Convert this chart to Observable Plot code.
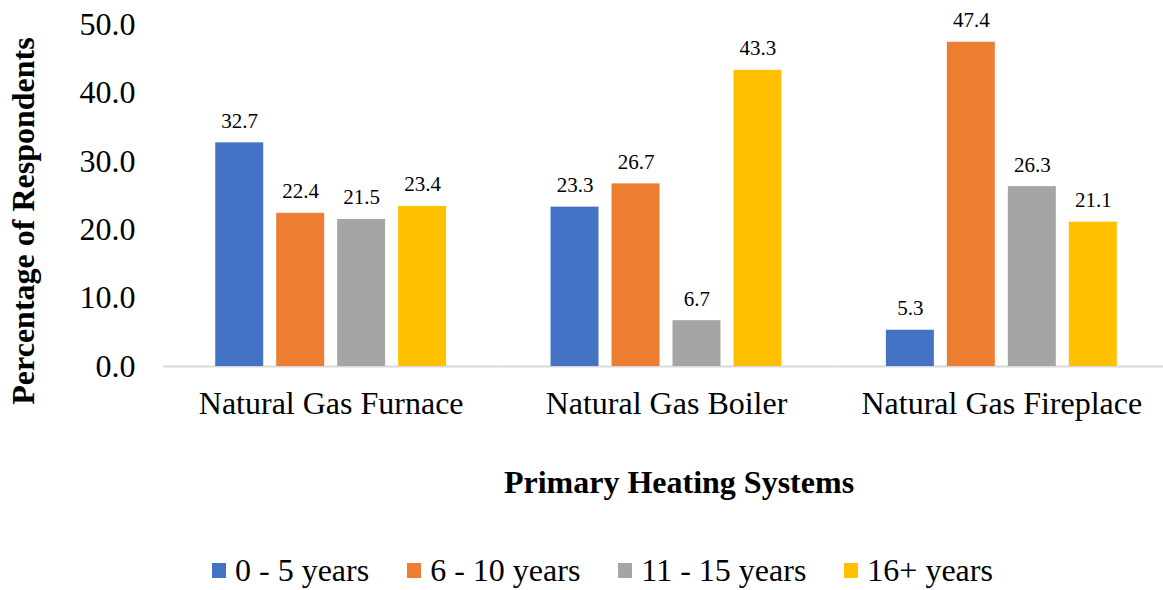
<!DOCTYPE html>
<html>
<head>
<meta charset="utf-8">
<script src="https://cdn.jsdelivr.net/npm/d3@7"></script>
<script src="https://cdn.jsdelivr.net/npm/@observablehq/plot@0.6"></script>
<style>
  html, body { margin: 0; padding: 0; background: #fff; overflow: hidden; }
  body { width: 1163px; height: 590px; font-family: "Liberation Serif", "Times New Roman", serif; color: #000; }
  #chart { width: 1163px; height: 440px; overflow: hidden; }
  #chart svg { display: block; max-width: none !important; }
  #xtitle { margin-top: 24px; width: 1163px; text-align: center; font-weight: bold; font-size: 32px; padding-left: 195px; box-sizing: border-box; }
  #legend { margin-top: 51px; display: flex; justify-content: flex-start; align-items: center; font-size: 32px; padding-left: 193px; }
  #legend .item { display: flex; align-items: center; margin: 0 19px; white-space: nowrap; }
  #legend .sw { width: 14px; height: 15px; margin-right: 9px; }
</style>
</head>
<body>
<div id="chart"></div>
<div id="xtitle">Primary Heating Systems</div>
<div id="legend"></div>
<script>
const categories = ["Natural Gas Furnace", "Natural Gas Boiler", "Natural Gas Fireplace"];
const series = ["0 - 5 years", "6 - 10 years", "11 - 15 years", "16+ years"];
const colors = ["#4472C4", "#ED7D31", "#A5A5A5", "#FFC000"];
const furnace = [32.7, 22.4, 21.5, 23.4];
const boiler = [23.3, 26.7, 6.7, 43.3];
const fireplace = [5.3, 47.4, 26.3, 21.1];
const yTicks = [0, 10, 20, 30, 40, 50];

const valueRows = [furnace, boiler, fireplace];
const data = [];
categories.forEach((c, i) => series.forEach((s, j) => data.push({category: c, series: s, value: valueRows[i][j]})));

const chart = Plot.plot({
  width: 1170,
  height: 440,
  marginLeft: 163,
  marginRight: 1,
  marginTop: 24,
  marginBottom: 74,
  style: {fontFamily: "'Liberation Serif', 'Times New Roman', serif", fontSize: "32px", color: "#000", background: "#fff", overflow: "visible", maxWidth: "none"},
  fx: {domain: categories, padding: 0, round: false, label: null},
  x: {domain: series, paddingInner: 0.2131, paddingOuter: 0.8566, round: false, axis: null},
  y: {domain: [0, 50], label: null},
  color: {domain: series, range: colors},
  marks: [
    Plot.axisY({ticks: yTicks, tickFormat: d => d.toFixed(1), tickSize: 0, tickPadding: 28, fontSize: 32, label: null}),
    Plot.axisFx({anchor: "bottom", tickSize: 0, tickPadding: 25, fontSize: 32, label: null}),
    Plot.ruleY([0], {stroke: "#d9d9d9", strokeWidth: 2}),
    Plot.barY(data, {fx: "category", x: "series", y: "value", fill: "series"}),
    Plot.text(data, {fx: "category", x: "series", y: "value", text: d => d.value.toFixed(1), lineAnchor: "bottom", dy: -15, fontSize: 21, fill: "#000"})
  ]
});
chart.style.maxWidth = "none";

const svg = d3.select(chart);
svg.append("text")
  .attr("transform", "translate(34,221) rotate(-90)")
  .attr("text-anchor", "middle")
  .attr("font-weight", "bold")
  .attr("font-size", 32)
  .attr("fill", "#000")
  .text("Percentage of Respondents");

document.getElementById("chart").appendChild(chart);

const legend = d3.select("#legend");
series.forEach((s, i) => {
  const item = legend.append("div").attr("class", "item");
  item.append("div").attr("class", "sw").style("background", colors[i]);
  item.append("span").text(s);
});
</script>
</body>
</html>
